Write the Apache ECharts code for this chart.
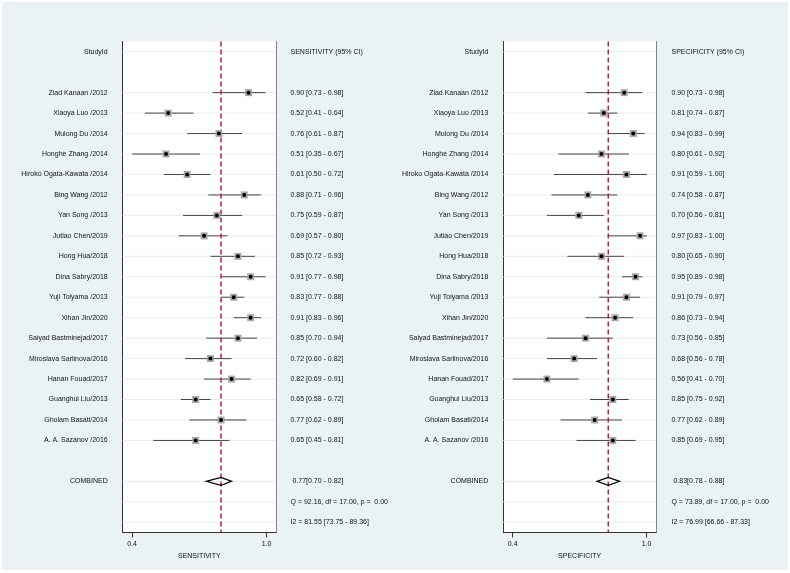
<!DOCTYPE html>
<html><head><meta charset="utf-8">
<script src="https://cdn.jsdelivr.net/npm/echarts@6/dist/echarts.min.js"></script>
<style>
html,body{margin:0;padding:0;background:#fff;}
#bg{position:absolute;left:2px;top:2px;width:786px;height:568px;background:#eaf2f3;}
#chart{position:absolute;left:0;top:0;width:790px;height:573px;}
</style></head><body>
<div id="bg"></div><div id="chart"></div>
<script>
const studies = ["Ziad Kanaan /2012","Xiaoya Luo /2013","Mulong Du /2014","Honghe Zhang /2014","Hiroko Ogata-Kawata /2014","Bing Wang /2012","Yan Song /2013","Jutiao Chen/2019","Hong Hua/2018","Dina Sabry/2018","Yuji Toiyama /2013","Xihan Jin/2020","Saiyad Bastminejad/2017","Miroslava Sarlinova/2016","Hanan Fouad/2017","Guanghui Liu/2013","Gholam Basati/2014","A. A. Sazanov /2016"];

const sens   = [0.90,0.52,0.76,0.51,0.61,0.88,0.75,0.69,0.85,0.91,0.83,0.91,0.85,0.72,0.82,0.65,0.77,0.65];
const sensLo = [0.73,0.41,0.61,0.35,0.50,0.71,0.59,0.57,0.72,0.77,0.77,0.83,0.70,0.60,0.69,0.58,0.62,0.45];
const sensHi = [0.98,0.64,0.87,0.67,0.72,0.96,0.87,0.80,0.93,0.98,0.88,0.96,0.94,0.82,0.91,0.72,0.89,0.81];

const spec   = [0.90,0.81,0.94,0.80,0.91,0.74,0.70,0.97,0.80,0.95,0.91,0.86,0.73,0.68,0.56,0.85,0.77,0.85];
const specLo = [0.73,0.74,0.83,0.61,0.59,0.58,0.56,0.83,0.65,0.89,0.79,0.73,0.56,0.56,0.41,0.75,0.62,0.69];
const specHi = [0.98,0.87,0.99,0.92,1.00,0.87,0.81,1.00,0.90,0.98,0.97,0.94,0.85,0.78,0.70,0.92,0.89,0.95];

const sensCombined = [0.77, 0.70, 0.82];
const specCombined = [0.83, 0.78, 0.88];
const sensStats = ["Q = 92.16, df = 17.00, p =  0.00", "I2 = 81.55 [73.75 - 89.36]"];
const specStats = ["Q = 73.89, df = 17.00, p =  0.00", "I2 = 76.99 [66.66 - 87.33]"];
const tickValues = [0.4, 1.0];

const FONT = "'Liberation Sans', Arial, sans-serif";
const TXT = '#111';
const f2 = v => v.toFixed(2);

const leftLabels = ["StudyId", "", ...studies, "", "COMBINED", "", ""];
function rightLabels(title, est, lo, hi, comb, stats) {
  return [title, "", ...est.map((v, i) => f2(v) + " [" + f2(lo[i]) + " - " + f2(hi[i]) + "]"),
    "", " " + f2(comb[0]) + "[" + f2(comb[1]) + " - " + f2(comb[2]) + "]", stats[0], stats[1]];
}
const gridRows = leftLabels.map((l, i) => i).filter(i => leftLabels[i] !== "" || i >= 22);

function panel(gi, est, lo, hi, comb, stats, title, axisName, dataMin, dataMax) {
  const xAxes = [
    { gridIndex: gi, type: 'value', min: 0.358, max: 1.042, position: 'bottom',
      axisLine: { show: true, lineStyle: { color: '#333', width: 1 } },
      axisTick: { show: true, customValues: tickValues, length: 5, lineStyle: { color: '#333' } },
      axisLabel: { customValues: tickValues, formatter: v => v.toFixed(1), margin: 8, fontSize: 7, color: TXT, fontFamily: FONT },
      splitLine: { show: false },
      name: axisName, nameLocation: 'middle', nameGap: 17,
      nameTextStyle: { fontSize: 7, color: TXT, fontFamily: FONT } },
    { gridIndex: gi, type: 'value', min: dataMin, max: dataMax, show: false, position: 'top' }
  ];
  const yAxes = [
    { gridIndex: gi, type: 'category', data: leftLabels, inverse: true, position: 'left',
      axisLine: { show: true, lineStyle: { color: '#333', width: 1 } }, axisTick: { show: false },
      axisLabel: { interval: 0, fontSize: 7, color: TXT, fontFamily: FONT, margin: 15 },
      splitLine: { show: false } },
    { gridIndex: gi, type: 'category', data: rightLabels(title, est, lo, hi, comb, stats), inverse: true, position: 'right',
      axisLine: { show: true, lineStyle: { color: '#808080', width: 1 } }, axisTick: { show: false },
      axisLabel: { interval: 0, fontSize: 7, color: TXT, fontFamily: FONT, margin: gi === 0 ? 14.5 : 15.5, align: 'left' },
      splitLine: { show: false } }
  ];
  const xi = gi * 2 + 1, yi = gi * 2;
  const ciData = est.map((v, i) => [lo[i], hi[i], v, i + 2]);
  const series = [
    { type: 'custom', xAxisIndex: xi, yAxisIndex: yi, z: 1, silent: true,
      data: gridRows.map(r => [comb[0], r]),
      renderItem: (params, api) => {
        const cs = params.coordSys;
        const y = api.coord([api.value(0), api.value(1)])[1];
        return { type: 'line', shape: { x1: cs.x, y1: y, x2: cs.x + cs.width, y2: y },
          style: { stroke: '#e4edef', lineWidth: 1 } };
      } },
    { type: 'custom', xAxisIndex: xi, yAxisIndex: yi, z: 2, silent: true,
      data: ciData,
      renderItem: (params, api) => {
        const a = api.coord([api.value(0), api.value(3)]);
        const b = api.coord([api.value(1), api.value(3)]);
        return { type: 'line', shape: { x1: a[0], y1: a[1], x2: b[0], y2: b[1] },
          style: { stroke: '#444', lineWidth: 1 } };
      } },
    { type: 'custom', xAxisIndex: xi, yAxisIndex: yi, z: 3, silent: true,
      data: [[comb[0], 0]],
      renderItem: (params, api) => {
        const cs = params.coordSys;
        const x = api.coord([api.value(0), 0])[0];
        return { type: 'line', shape: { x1: x, y1: cs.y, x2: x, y2: cs.y + cs.height },
          style: { stroke: '#b8204c', lineWidth: 1.5, lineDash: [5, 3] } };
      } },
    { type: 'custom', xAxisIndex: xi, yAxisIndex: yi, z: 4, silent: true,
      data: ciData,
      renderItem: (params, api) => {
        const p = api.coord([api.value(2), api.value(3)]);
        return { type: 'group', children: [
          { type: 'rect', shape: { x: p[0] - 3.5, y: p[1] - 3.5, width: 7, height: 7 },
            style: { fill: '#a8a8a8' } },
          { type: 'circle', shape: { cx: p[0], cy: p[1], r: 2 }, style: { fill: '#000' } }
        ] };
      } },
    { type: 'custom', xAxisIndex: xi, yAxisIndex: yi, z: 5, silent: true,
      data: [[comb[1], comb[0], comb[2], 21]],
      renderItem: (params, api) => {
        const r = api.value(3);
        const l = api.coord([api.value(0), r]);
        const m = api.coord([api.value(1), r]);
        const h = api.coord([api.value(2), r]);
        const d = 4;
        return { type: 'polygon', shape: { points: [[l[0], l[1]], [m[0], m[1] - d], [h[0], h[1]], [m[0], m[1] + d]] },
          style: { fill: 'none', stroke: '#000', lineWidth: 1.2 } };
      } }
  ];
  return { xAxes, yAxes, series };
}

const pL = panel(0, sens, sensLo, sensHi, sensCombined, sensStats, "SENSITIVITY (95% CI)", "SENSITIVITY", 0.305, 1.03);
const pR = panel(1, spec, specLo, specHi, specCombined, specStats, "SPECIFICITY (95% CI)", "SPECIFICITY", 0.368, 1.04);

const chart = echarts.init(document.getElementById('chart'), null, { renderer: 'canvas' });
chart.setOption({
  backgroundColor: 'transparent',
  animation: false,
  textStyle: { fontFamily: FONT },
  grid: [
    { left: 122.7, top: 41.5, width: 153.3, height: 491, show: true, backgroundColor: '#fff', borderWidth: 0 },
    { left: 503.3, top: 41.5, width: 152.7, height: 491, show: true, backgroundColor: '#fff', borderWidth: 0 }
  ],
  xAxis: [...pL.xAxes, ...pR.xAxes],
  yAxis: [...pL.yAxes, ...pR.yAxes],
  series: [...pL.series, ...pR.series]
});
</script>
</body></html>
